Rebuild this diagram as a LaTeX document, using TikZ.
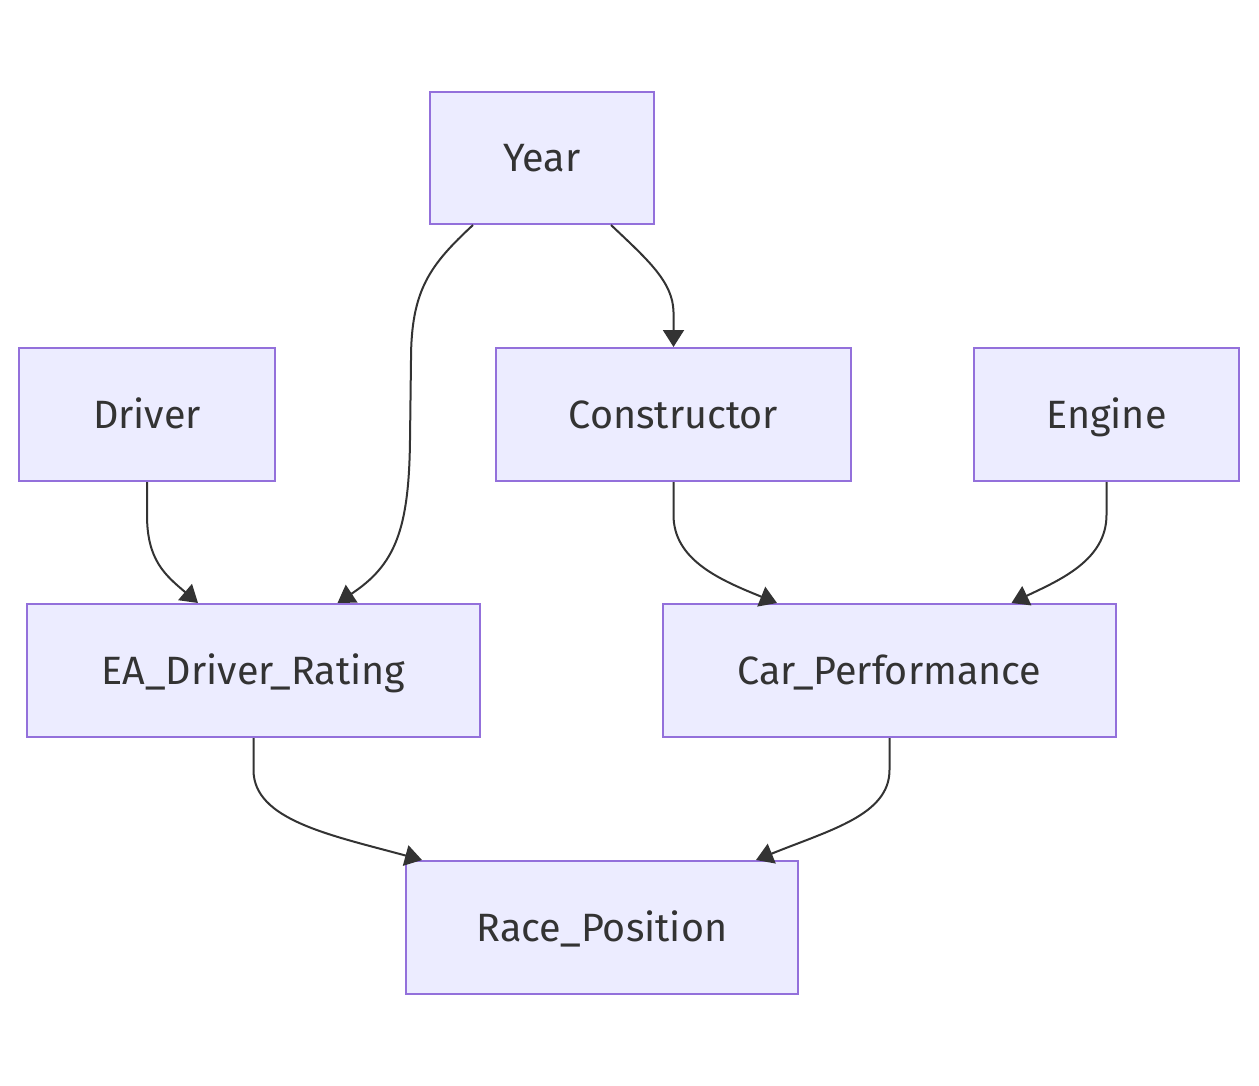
\documentclass[tikz,border=0pt]{standalone}
\usepackage{fontspec}
\setmainfont{Fira Sans}
\usetikzlibrary{arrows.meta}
\definecolor{nodefill}{HTML}{ECECFF}
\definecolor{nodeline}{HTML}{9370DB}
\definecolor{ink}{HTML}{333333}
\tikzset{
  box/.style={draw=nodeline, fill=nodefill, line width=2pt, inner sep=0pt,
    text=ink, font=\fontsize{39.5}{46}\selectfont, text height=27.2pt, text depth=0pt, anchor=center},
  link/.style={draw=ink, line width=2pt, -{Triangle[length=17pt,width=21pt]}},
}
\begin{document}
\begin{tikzpicture}[x=1pt,y=-1pt]
\useasboundingbox (0,0) rectangle (1259,1086);
\node[box, minimum width=224, minimum height=132] (year) at (542,158) {Year};
\node[box, minimum width=256, minimum height=133] (driver) at (147,414.5) {Driver};
\node[box, minimum width=355, minimum height=133] (cons) at (673.5,414.5) {Constructor};
\node[box, minimum width=265, minimum height=133] (engine) at (1106.5,414.5) {Engine};
\node[box, minimum width=453, minimum height=133] (ea) at (253.5,670.5) {EA\_Driver\_Rating};
\node[box, minimum width=453, minimum height=133] (car) at (889.5,670.5) {Car\_Performance};
\node[box, minimum width=392, minimum height=133] (race) at (602,927.5) {Race\_Position};

\draw[link] ([xshift=69]year.south) .. controls (648,260) and (673,282) .. (673.5,312) -- (cons.north);
\draw[link] ([xshift=-69]year.south) .. controls (430,265) and (411,290) .. (411,360) -- (410,440) .. controls (409,530) and (395,565) .. ([xshift=84]ea.north);
\draw[link] (driver.south) -- (147,515) .. controls (147,560) and (165,575) .. ([xshift=-55.5]ea.north);
\draw[link] (cons.south) -- (673.5,515) .. controls (673.5,560) and (720,580) .. ([xshift=-112.5]car.north);
\draw[link] (engine.south) -- (1106.5,515) .. controls (1106.5,560) and (1060,580) .. ([xshift=122]car.north);
\draw[link] (ea.south) -- (253.5,770) .. controls (253.5,820) and (330,835) .. ([xshift=-180]race.north);
\draw[link] (car.south) -- (889.5,770) .. controls (889.5,815) and (830,830) .. ([xshift=154]race.north);
\end{tikzpicture}
\end{document}
